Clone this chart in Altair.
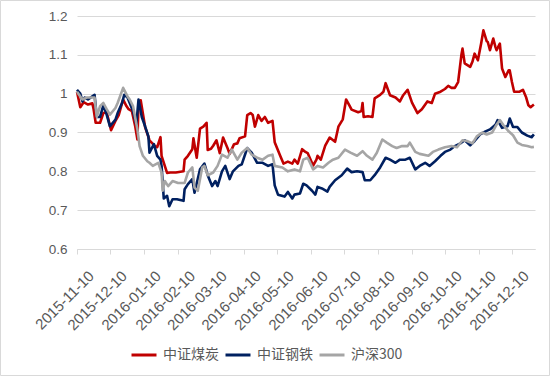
import altair as alt
import pandas as pd

# ---------------- data ----------------
coal_dates = [
    "2015-11-10", "2015-11-13", "2015-11-16", "2015-11-20", "2015-11-24", "2015-11-25", "2015-11-27",
    "2015-12-01", "2015-12-04", "2015-12-07", "2015-12-11", "2015-12-15", "2015-12-18", "2015-12-22",
    "2015-12-25", "2015-12-27", "2015-12-30", "2016-01-02", "2016-01-04", "2016-01-05", "2016-01-07",
    "2016-01-11", "2016-01-15", "2016-01-20", "2016-01-22", "2016-01-25", "2016-01-26", "2016-01-31",
    "2016-02-03", "2016-02-08", "2016-02-15", "2016-02-16", "2016-02-19", "2016-02-23", "2016-02-24",
    "2016-02-27", "2016-03-01", "2016-03-04", "2016-03-07", "2016-03-08", "2016-03-11", "2016-03-13",
    "2016-03-16", "2016-03-19", "2016-03-22", "2016-03-26", "2016-03-28", "2016-04-01", "2016-04-04",
    "2016-04-06", "2016-04-11", "2016-04-13", "2016-04-16", "2016-04-18", "2016-04-20", "2016-04-23",
    "2016-04-26", "2016-04-29", "2016-05-02", "2016-05-06", "2016-05-08", "2016-05-13", "2016-05-16",
    "2016-05-20", "2016-05-24", "2016-05-26", "2016-05-29", "2016-06-02", "2016-06-05", "2016-06-07",
    "2016-06-12", "2016-06-15", "2016-06-16", "2016-06-19", "2016-06-23", "2016-06-27", "2016-07-02",
    "2016-07-05", "2016-07-09", "2016-07-12", "2016-07-15", "2016-07-17", "2016-07-23", "2016-07-26",
    "2016-07-27", "2016-07-28", "2016-08-01", "2016-08-05", "2016-08-07", "2016-08-12", "2016-08-15",
    "2016-08-17", "2016-08-21", "2016-08-26", "2016-08-30", "2016-09-02", "2016-09-06", "2016-09-10",
    "2016-09-15", "2016-09-19", "2016-09-24", "2016-09-28", "2016-10-01", "2016-10-06", "2016-10-10",
    "2016-10-13", "2016-10-16", "2016-10-19", "2016-10-22", "2016-10-25", "2016-10-26", "2016-10-28",
    "2016-11-02", "2016-11-04", "2016-11-06", "2016-11-09", "2016-11-12", "2016-11-14", "2016-11-17",
    "2016-11-18", "2016-11-20", "2016-11-23", "2016-11-25", "2016-11-26", "2016-11-29", "2016-12-01",
    "2016-12-04", "2016-12-07", "2016-12-08", "2016-12-10", "2016-12-12", "2016-12-17", "2016-12-20",
    "2016-12-23", "2016-12-25", "2016-12-27", "2016-12-30",
]
coal_values = [
    1.005, 0.965, 0.978, 0.972, 0.975, 0.962, 0.925,
    0.925, 0.950, 0.952, 0.906, 0.930, 0.945, 0.985,
    0.968, 0.960, 0.955, 0.916, 0.882, 0.970, 0.983,
    0.914, 0.880, 0.865, 0.862, 0.888, 0.840, 0.796,
    0.797, 0.797, 0.800, 0.830, 0.840, 0.857, 0.885,
    0.835, 0.910, 0.915, 0.925, 0.855, 0.858, 0.866,
    0.880, 0.847, 0.887, 0.860, 0.845, 0.870, 0.872,
    0.885, 0.890, 0.945, 0.950, 0.945, 0.915, 0.945,
    0.930, 0.940, 0.925, 0.930, 0.875, 0.840, 0.820,
    0.825, 0.820, 0.830, 0.820, 0.857, 0.850, 0.847,
    0.815, 0.830, 0.840, 0.830, 0.866, 0.887, 0.876,
    0.915, 0.934, 0.985, 0.970, 0.959, 0.952, 0.955,
    0.976, 0.940, 0.942, 0.940, 0.988, 0.997, 1.005,
    1.027, 0.996, 0.990, 0.980, 0.996, 1.010, 0.977,
    0.950, 0.960, 0.980, 0.976, 1.000, 1.005, 1.012,
    1.020, 1.015, 1.015, 1.030, 1.100, 1.116, 1.078,
    1.069, 1.082, 1.103, 1.086, 1.130, 1.163, 1.135,
    1.133, 1.112, 1.142, 1.120, 1.112, 1.129, 1.065,
    1.043, 1.060, 1.060, 1.030, 1.005, 1.005, 1.010,
    0.990, 0.970, 0.965, 0.972,
]

steel_dates = [
    "2015-11-10", "2015-11-13", "2015-11-15", "2015-11-17", "2015-11-20", "2015-11-24", "2015-11-26",
    "2015-11-28", "2015-12-01", "2015-12-04", "2015-12-07", "2015-12-10", "2015-12-15", "2015-12-17",
    "2015-12-21", "2015-12-23", "2015-12-26", "2015-12-28", "2015-12-31", "2016-01-03", "2016-01-05",
    "2016-01-08", "2016-01-11", "2016-01-14", "2016-01-15", "2016-01-19", "2016-01-22", "2016-01-25",
    "2016-01-26", "2016-01-28", "2016-01-31", "2016-02-02", "2016-02-05", "2016-02-09", "2016-02-15",
    "2016-02-16", "2016-02-19", "2016-02-23", "2016-02-25", "2016-03-01", "2016-03-05", "2016-03-08",
    "2016-03-12", "2016-03-15", "2016-03-17", "2016-03-21", "2016-03-24", "2016-03-28", "2016-03-31",
    "2016-04-05", "2016-04-08", "2016-04-13", "2016-04-17", "2016-04-22", "2016-04-27", "2016-05-02",
    "2016-05-06", "2016-05-08", "2016-05-11", "2016-05-17", "2016-05-20", "2016-05-24", "2016-05-26",
    "2016-05-31", "2016-06-03", "2016-06-06", "2016-06-11", "2016-06-14", "2016-06-16", "2016-06-20",
    "2016-06-25", "2016-06-27", "2016-07-02", "2016-07-08", "2016-07-13", "2016-07-17", "2016-07-22",
    "2016-07-27", "2016-07-29", "2016-08-03", "2016-08-07", "2016-08-12", "2016-08-17", "2016-08-21",
    "2016-08-26", "2016-08-30", "2016-09-04", "2016-09-08", "2016-09-13", "2016-09-17", "2016-09-22",
    "2016-09-26", "2016-10-01", "2016-10-06", "2016-10-10", "2016-10-15", "2016-10-19", "2016-10-24",
    "2016-10-28", "2016-11-02", "2016-11-06", "2016-11-11", "2016-11-16", "2016-11-20", "2016-11-25",
    "2016-11-27", "2016-12-01", "2016-12-06", "2016-12-08", "2016-12-11", "2016-12-15", "2016-12-19",
    "2016-12-24", "2016-12-28", "2016-12-30",
]
steel_values = [
    1.010, 1.000, 0.980, 0.990, 0.985, 0.993, 0.997,
    0.940, 0.940, 0.970, 0.946, 0.916, 0.933, 0.950,
    0.976, 0.997, 0.990, 0.976, 0.955, 0.920, 0.985,
    0.940, 0.916, 0.890, 0.848, 0.870, 0.840, 0.830,
    0.814, 0.730, 0.737, 0.710, 0.728, 0.728, 0.724,
    0.754, 0.767, 0.780, 0.745, 0.805, 0.820, 0.790,
    0.762, 0.775, 0.762, 0.800, 0.814, 0.780, 0.800,
    0.814, 0.818, 0.860, 0.848, 0.822, 0.822, 0.814,
    0.818, 0.764, 0.740, 0.735, 0.747, 0.730, 0.740,
    0.743, 0.768, 0.764, 0.750, 0.740, 0.760, 0.756,
    0.748, 0.760, 0.777, 0.790, 0.807, 0.798, 0.800,
    0.798, 0.777, 0.777, 0.790, 0.810, 0.835, 0.830,
    0.822, 0.830, 0.830, 0.835, 0.805, 0.814, 0.822,
    0.814, 0.826, 0.840, 0.850, 0.856, 0.865, 0.872,
    0.880, 0.867, 0.878, 0.895, 0.903, 0.908, 0.920,
    0.932, 0.912, 0.916, 0.936, 0.914, 0.914, 0.900,
    0.892, 0.888, 0.895,
]

hs300_dates = [
    "2015-11-10", "2015-11-13", "2015-11-15", "2015-11-19", "2015-11-24", "2015-11-26", "2015-11-28",
    "2015-12-01", "2015-12-04", "2015-12-07", "2015-12-10", "2015-12-15", "2015-12-17", "2015-12-22",
    "2015-12-26", "2015-12-28", "2015-12-31", "2016-01-04", "2016-01-06", "2016-01-09", "2016-01-13",
    "2016-01-15", "2016-01-18", "2016-01-23", "2016-01-26", "2016-01-27", "2016-01-29", "2016-02-01",
    "2016-02-05", "2016-02-10", "2016-02-16", "2016-02-19", "2016-02-23", "2016-02-25", "2016-02-28",
    "2016-03-03", "2016-03-05", "2016-03-08", "2016-03-13", "2016-03-17", "2016-03-21", "2016-03-26",
    "2016-03-30", "2016-04-04", "2016-04-08", "2016-04-13", "2016-04-17", "2016-04-22", "2016-04-27",
    "2016-05-02", "2016-05-06", "2016-05-08", "2016-05-15", "2016-05-20", "2016-05-26", "2016-05-31",
    "2016-06-03", "2016-06-07", "2016-06-12", "2016-06-16", "2016-06-21", "2016-06-26", "2016-06-30",
    "2016-07-05", "2016-07-11", "2016-07-16", "2016-07-22", "2016-07-27", "2016-07-31", "2016-08-05",
    "2016-08-09", "2016-08-14", "2016-08-18", "2016-08-23", "2016-08-27", "2016-09-01", "2016-09-06",
    "2016-09-08", "2016-09-13", "2016-09-17", "2016-09-25", "2016-09-29", "2016-10-04", "2016-10-10",
    "2016-10-16", "2016-10-21", "2016-10-26", "2016-10-30", "2016-11-04", "2016-11-08", "2016-11-13",
    "2016-11-17", "2016-11-22", "2016-11-26", "2016-11-29", "2016-12-02", "2016-12-07", "2016-12-11",
    "2016-12-15", "2016-12-19", "2016-12-24", "2016-12-28", "2016-12-30",
]
hs300_values = [
    1.005, 0.993, 0.985, 0.990, 0.990, 0.990, 0.940,
    0.968, 0.976, 0.960, 0.946, 0.963, 0.976, 1.015,
    0.993, 0.985, 0.968, 0.908, 0.865, 0.840, 0.826,
    0.822, 0.814, 0.822, 0.797, 0.750, 0.775, 0.762,
    0.775, 0.770, 0.770, 0.797, 0.810, 0.758, 0.750,
    0.810, 0.814, 0.790, 0.797, 0.814, 0.843, 0.835,
    0.856, 0.830, 0.848, 0.860, 0.843, 0.835, 0.830,
    0.840, 0.843, 0.814, 0.810, 0.800, 0.805, 0.800,
    0.830, 0.835, 0.805, 0.814, 0.810, 0.822, 0.830,
    0.835, 0.856, 0.848, 0.840, 0.852, 0.840, 0.830,
    0.848, 0.882, 0.874, 0.865, 0.860, 0.865, 0.865,
    0.874, 0.850, 0.845, 0.840, 0.850, 0.856, 0.862,
    0.865, 0.862, 0.880, 0.878, 0.872, 0.890, 0.900,
    0.895, 0.900, 0.920, 0.932, 0.920, 0.903, 0.893,
    0.874, 0.868, 0.865, 0.862, 0.863,
]

series_names = ["中证煤炭", "中证钢铁", "沪深300"]
series_colors = ["#C00000", "#002060", "#A5A5A5"]

tick_labels = [
    "2015-11-10", "2015-12-10", "2016-01-10", "2016-02-10", "2016-03-10", "2016-04-10", "2016-05-10",
    "2016-06-10", "2016-07-10", "2016-08-10", "2016-09-10", "2016-10-10", "2016-11-10", "2016-12-10",
]
y_ticks = [0.6, 0.7, 0.8, 0.9, 1.0, 1.1, 1.2]

# ---------------- build table ----------------
frames = []
for name, d, v in zip(series_names,
                      [coal_dates, steel_dates, hs300_dates],
                      [coal_values, steel_values, hs300_values]):
    frames.append(pd.DataFrame({"date": d, "value": v, "series": name}))
df = pd.concat(frames, ignore_index=True)


def dt(s):
    return alt.DateTime(year=int(s[:4]), month=int(s[5:7]), date=int(s[8:10]), utc=True)


TEXT = "#595959"
GRID = "#D9D9D9"

x_enc = alt.X(
    "date:T",
    title=None,
    scale=alt.Scale(type="utc", domain=[dt("2015-11-10"), dt("2016-12-31")]),
    axis=alt.Axis(
        values=[dt(s) for s in tick_labels],
        format="%Y-%m-%d",
        labelAngle=-45,
        labelAlign="right",
        labelBaseline="top",
        labelOffset=9,
        labelPadding=14,
        labelFont="Liberation Sans",
        labelFontSize=15,
        labelColor=TEXT,
        labelOverlap=False,
        labelFlush=False,
        grid=False,
        domainColor=GRID,
        domainWidth=1,
        tickColor=GRID,
        tickSize=5,
        tickWidth=1,
    ),
)
y_enc = alt.Y(
    "value:Q",
    title=None,
    scale=alt.Scale(domain=[0.6, 1.2], zero=False, nice=False),
    axis=alt.Axis(
        values=y_ticks,
        format="~g",
        labelFont="Liberation Sans",
        labelFontSize=13.5,
        labelColor=TEXT,
        labelPadding=10,
        domain=False,
        ticks=False,
        grid=True,
        gridColor=GRID,
        gridWidth=1,
    ),
)
color_enc = alt.Color(
    "series:N",
    scale=alt.Scale(domain=series_names, range=series_colors),
    legend=alt.Legend(
        title=None,
        orient="none",
        legendX=53,
        legendY=325,
        direction="horizontal",
        symbolType="stroke",
        symbolSize=625,
        symbolStrokeWidth=3,
        labelFont="Noto Sans CJK SC",
        labelFontSize=14,
        labelColor=TEXT,
        labelOffset=5,
        columnPadding=0,
    ),
)

border = alt.Chart(pd.DataFrame({"k": [0]})).mark_rect(
    fill="transparent", stroke=GRID, strokeWidth=1
).encode(
    x=alt.value(-76.5), x2=alt.value(472.5), y=alt.value(-15.5), y2=alt.value(359.5)
)

layers = [border]
for name in series_names:
    layers.append(
        alt.Chart(df)
        .transform_filter(alt.datum.series == name)
        .mark_line(strokeWidth=2.6, strokeJoin="round")
        .encode(x=x_enc, y=y_enc, color=color_enc)
    )

chart = alt.layer(*layers).properties(
    width=458,
    height=233,
    padding={"left": 77, "top": 16, "right": 15, "bottom": 127},
    autosize=alt.AutoSizeParams(type="none"),
    background="white",
).configure_view(stroke=None)

chart.save("out.html", embed_options={"renderer": "svg", "actions": False})
